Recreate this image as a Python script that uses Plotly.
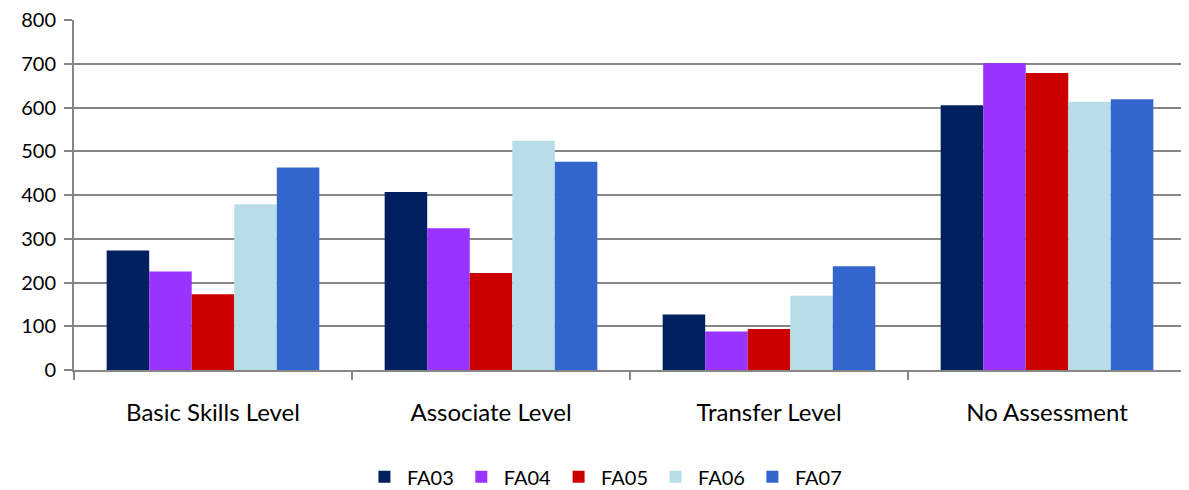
import plotly.graph_objects as go

categories = ["Basic Skills Level", "Associate Level", "Transfer Level", "No Assessment"]
series_names = ["FA03", "FA04", "FA05", "FA06", "FA07"]
fa03 = [273, 407, 127, 605]
fa04 = [225, 324, 88, 701]
fa05 = [173, 222, 94, 679]
fa06 = [379, 524, 170, 613]
fa07 = [463, 476, 237, 619]
colors = ["#002060", "#9933FF", "#CC0000", "#B7DEE8", "#3366CC"]

values = [fa03, fa04, fa05, fa06, fa07]

fig = go.Figure()
for name, vals, col in zip(series_names, values, colors):
    fig.add_trace(go.Bar(x=categories, y=vals, name=name,
                         marker=dict(color=col, line=dict(width=0))))

font_family = "Lato, 'Open Sans', sans-serif"
fig.update_layout(
    width=1181, height=482,
    barmode="group", bargap=0.235, bargroupgap=0,
    plot_bgcolor="white", paper_bgcolor="white",
    margin=dict(l=66, r=3, t=12, b=120, autoexpand=False),
    font=dict(family=font_family, size=20, color="#000000"),
    legend=dict(orientation="h", x=0.477, xanchor="center", y=-0.305, yanchor="middle",
                font=dict(size=20), itemwidth=35, traceorder="normal"),
    showlegend=True,
)
fig.update_xaxes(showline=True, linecolor="#868686", linewidth=2,
                 ticks="outside", tickson="boundaries", ticklen=8, tickcolor="#868686",
                 tickwidth=2, showgrid=False, tickfont=dict(size=24),
                 ticklabelstandoff=20, automargin=False, ticklabeloverflow="allow")
fig.update_yaxes(range=[0, 800], dtick=100, showline=True, linecolor="#868686", linewidth=2,
                 showgrid=True, gridcolor="#868686", gridwidth=2,
                 ticks="outside", ticklen=8, tickcolor="#868686", tickwidth=2,
                 zeroline=False, tickfont=dict(size=20), automargin=False,
                 ticklabelstandoff=4, ticklabeloverflow="allow")

fig.write_html("out.html")
